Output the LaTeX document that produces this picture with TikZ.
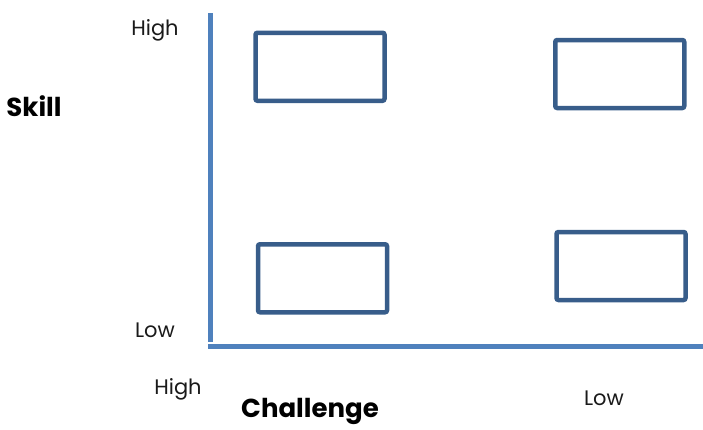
\documentclass[tikz,border=0pt]{standalone}
\usepackage{fontspec}
\setmainfont{Poppins}
\usetikzlibrary{positioning}
\definecolor{axisblue}{HTML}{4F81BD}
\definecolor{boxblue}{HTML}{385D8A}
\definecolor{labelgray}{HTML}{1A1A1A}

\begin{document}
\begin{tikzpicture}[x=1pt,y=-1pt,
 cell/.style={draw=boxblue,line width=4.5pt,rounded corners=2pt,fill=white,
 minimum width=129pt,minimum height=68pt,inner sep=0pt},
 axisline/.style={axisblue,line width=5pt},
 tick/.style={font=\fontsize{21}{24}\selectfont,text=labelgray,inner sep=0pt},
 title/.style={font=\bfseries\fontsize{26}{30}\selectfont,text=black,inner sep=0pt}]
\useasboundingbox (0,0) rectangle (703,429);
% axes
\coordinate (ytop) at (210,13);
\coordinate (ybot) at (210,342);
\coordinate (xleft) at (208,346);
\coordinate (xright) at (703,346);
\draw[axisline] (ytop) -- (ybot);
\draw[axisline] (xleft) -- (xright);
% quadrants
\foreach \name/\cx/\cy in {hh/320/66.75,lh/619.75/74,hl/322.5/278.25,ll/621/266} {
 \node[cell] (box\name) at (\cx,\cy) {};
}
% labels
\node[tick] (skillhigh) at (155,30) {High};
\node[tick] (skilllow) at (155,330) {Low};
\node[title] (skill) at (34,106) {Skill};
\node[tick] (chalhigh) at (178,389) {High};
\node[title] (challenge) at (310,411) {Challenge};
\node[tick] (challow) at (604,398) {Low};
\end{tikzpicture}
\end{document}
